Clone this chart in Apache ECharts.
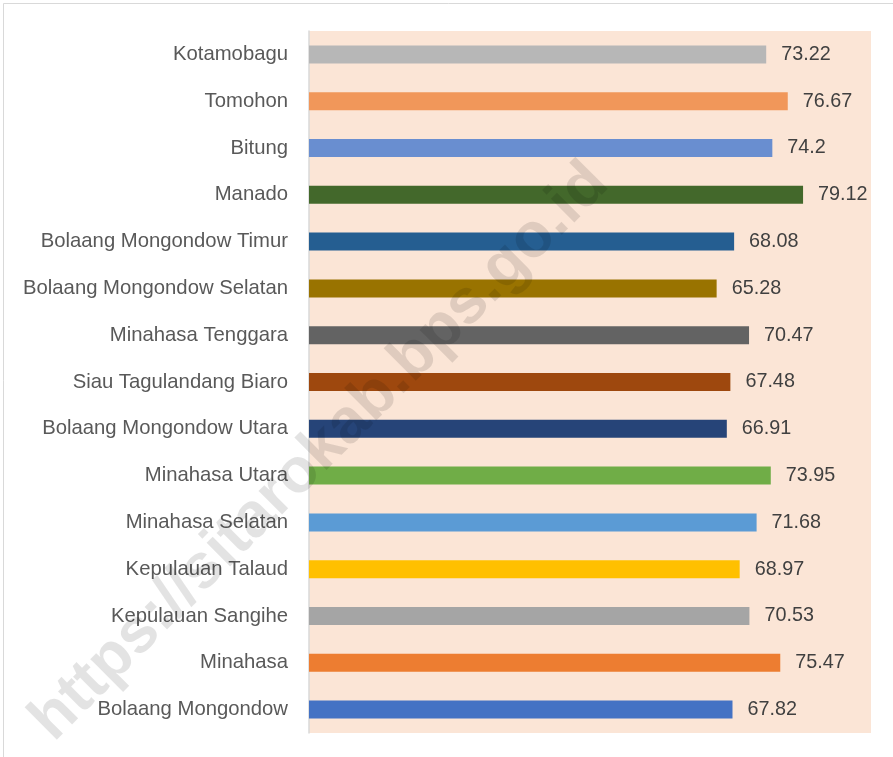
<!DOCTYPE html>
<html>
<head>
<meta charset="utf-8">
<script src="https://cdn.jsdelivr.net/npm/echarts@6/dist/echarts.min.js"></script>
<style>
  html, body { margin: 0; padding: 0; background: #fff; }
  #main { width: 893px; height: 757px; }
</style>
</head>
<body>
<div id="main"></div>
<script>
// kategori dari bawah ke atas (urutan sumbu kategori echarts)
const regions = [
  'Bolaang Mongondow', 'Minahasa', 'Kepulauan Sangihe', 'Kepulauan Talaud',
  'Minahasa Selatan', 'Minahasa Utara', 'Bolaang Mongondow Utara',
  'Siau Tagulandang Biaro', 'Minahasa Tenggara', 'Bolaang Mongondow Selatan',
  'Bolaang Mongondow Timur', 'Manado', 'Bitung', 'Tomohon', 'Kotamobagu'
]
const values = [67.82, 75.47, 70.53, 68.97, 71.68, 73.95, 66.91, 67.48, 70.47, 65.28, 68.08, 79.12, 74.2, 76.67, 73.22]
const barColors = [
  '#4472C4', '#ED7D31', '#A5A5A5', '#FFC000', '#5B9BD5', '#70AD47', '#264478',
  '#9E480E', '#636363', '#997300', '#255E91', '#43682B', '#698ED0', '#F1975A', '#B7B7B7'
]

const chart = echarts.init(document.getElementById('main'), null, { renderer: 'canvas' })

const font = '"Liberation Sans", Arial, sans-serif'

chart.setOption({
  animation: false,
  backgroundColor: '#fff',
  grid: {
    left: 309,
    right: 22,
    top: 31,
    bottom: 24,
    show: true,
    backgroundColor: '#FBE5D6',
    borderWidth: 0
  },
  xAxis: {
    type: 'value',
    min: 0,
    max: 90,
    show: false
  },
  yAxis: {
    type: 'category',
    data: regions,
    axisLine: { lineStyle: { color: '#D9D9D9', width: 1.5 } },
    axisTick: { show: false },
    axisLabel: {
      color: '#595959',
      fontSize: 20.3,
      fontFamily: font,
      margin: 21
    }
  },
  series: [{
    type: 'bar',
    barWidth: 18,
    data: values.map((v, i) => ({ value: v, itemStyle: { color: barColors[i] } })),
    label: {
      show: true,
      position: 'right',
      distance: 15,
      color: '#404040',
      fontSize: 19.8,
      fontFamily: font
    }
  }],
  graphic: [
    {
      type: 'rect',
      silent: true,
      shape: { x: 3.5, y: 3.5, width: 900, height: 800 },
      style: { fill: 'none', stroke: '#D9D9D9', lineWidth: 1 }
    },
    {
      type: 'text',
      silent: true,
      z: 100,
      x: 320,
      y: 452,
      rotation: Math.PI / 4,
      style: {
        text: 'https://sitarokab.bps.go.id',
        font: 'bold 63px "Liberation Sans", Arial, sans-serif',
        fill: 'rgba(0,0,0,0.11)',
        align: 'center',
        verticalAlign: 'middle'
      }
    }
  ]
})
</script>
</body>
</html>
